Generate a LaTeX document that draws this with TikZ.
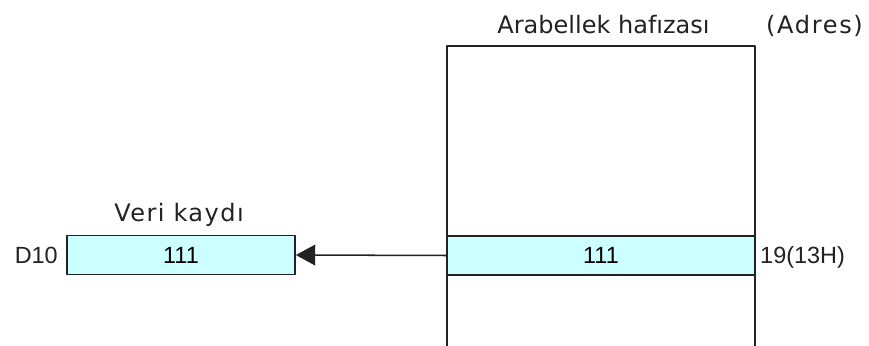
\documentclass[tikz,border=0pt]{standalone}
\usepackage{fontspec}
\setmainfont{Liberation Sans}
\newfontfamily\titlefont{DejaVu Sans}
\usetikzlibrary{arrows.meta,positioning}
\definecolor{cellcyan}{HTML}{CCFFFF}
\definecolor{inkgray}{HTML}{222222}
\tikzset{
	cell/.style={draw=inkgray,fill=cellcyan,line width=1.5pt,minimum height=1.17cm,inner sep=0pt,font=\fontsize{20}{24}\selectfont},
	lbl/.style={text=inkgray,inner sep=0pt,font=\fontsize{20}{24}\selectfont},
	ttl/.style={text=inkgray,inner sep=0pt,anchor=base,font=\titlefont\fontsize{20.5}{24}\selectfont}
}
\begin{document}
\begin{tikzpicture}[x=0.03cm,y=-0.03cm,line join=round,>={Triangle[length=0.58cm,width=0.62cm]}]
	\useasboundingbox[fill=white] (0,0) rectangle (869,346);
	\path
	(447,346) coordinate (MB)
	(755,46) coordinate (MT)
	;
	% arabellek hafizasi
	\draw[inkgray,line width=1.5pt] (MB) |- (MT) -- (MT|-MB);
	\node[cell,minimum width=9.24cm] (row) at (601,255.5) {111};
	\node[ttl] (memtitle) at (603.5,34) {Arabellek hafızası};
	\node[ttl] (adres) at (814.5,34) {\addfontfeature{LetterSpace=7}(Adres)};
	\node[lbl,anchor=base west] (addr) at (760,264) {19(13H)};
	% veri kaydi
	\node[cell,minimum width=6.84cm] (reg) at (181,255) {111};
	\node[ttl] (regtitle) at (179,222) {\addfontfeature{LetterSpace=6}Veri kaydı};
	\node[lbl,anchor=base east] (d10) at (58,264) {D10};
	\draw[->,inkgray,line width=1.3pt] (row.west) -- (reg.east);
\end{tikzpicture}
\end{document}
